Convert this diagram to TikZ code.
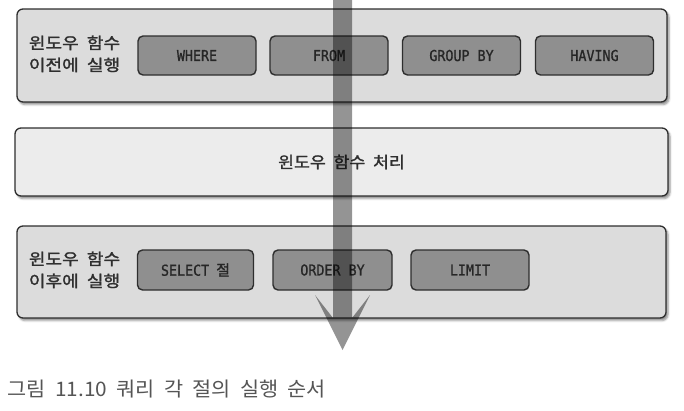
\documentclass[tikz,border=0pt]{standalone}
\usepackage{fontspec}
\usepackage{graphicx}
\setmainfont{Noto Sans CJK KR}
\newfontfamily\krfont[WordSpace=2, FakeBold=1.5]{Noto Sans CJK KR}
\newfontfamily\capfont[WordSpace=2]{Noto Sans CJK KR}
\newfontfamily\codefont[FakeBold=1]{DejaVu Sans Mono}
\usetikzlibrary{shadows.blur,calc}
\definecolor{panelfill}{HTML}{DCDCDC}
\definecolor{midfill}{HTML}{ECECEC}
\definecolor{clausefill}{HTML}{8F8F8F}
\definecolor{edgecol}{HTML}{2E2E2E}
\definecolor{labelcol}{HTML}{2F2F2F}
\definecolor{capcol}{HTML}{555555}
\newcommand{\codetext}[1]{\scalebox{0.89}[1]{\codefont\fontsize{15}{15}\selectfont #1}}
\newcommand{\twoline}[2]{\scalebox{1.13}[1]{\begin{tabular}{@{}l@{}}#1\\#2\end{tabular}}}
\begin{document}
\begin{tikzpicture}[x=1pt,y=-1pt,
  panel/.style={draw=edgecol, line width=1.3pt, rounded corners=6pt, fill=panelfill, inner sep=0pt,
    blur shadow={shadow xshift=2pt, shadow yshift=-2.5pt, shadow blur radius=2pt, shadow opacity=45}},
  midpanel/.style={panel, fill=midfill},
  clause/.style={draw=edgecol, line width=1.4pt, rounded corners=5pt, fill=clausefill, inner sep=0pt,
    minimum width=118pt, minimum height=39pt, text=black!85},
  grouplabel/.style={text=labelcol, inner sep=0pt, font=\krfont\fontsize{16}{22}\selectfont},
  flowarrow/.style={fill=black, opacity=0.42}
]
\useasboundingbox (0,0) rectangle (684,410);

% panels
\node[panel, minimum width=650pt, minimum height=93pt] (before) at (342,55.5) {};
\node[midpanel, minimum width=653pt, minimum height=68pt] (window) at (341.5,162) {};
\node[panel, minimum width=649pt, minimum height=92pt] (after) at (341.5,272) {};

% labels
\node[grouplabel] (beforelbl) at (74.5,55.5) {\twoline{윈도우 함수}{이전에 실행}};
\node[grouplabel] (afterlbl) at (74.5,271.5) {\twoline{윈도우 함수}{이후에 실행}};
\node[text=labelcol, inner sep=0pt, font=\krfont\fontsize{16}{18}\selectfont] (windowlbl) at (341.5,162) {\scalebox{1.08}[1]{윈도우 함수 처리}};

% clauses before
\node[clause] (where) at (197,55.5) {\codetext{WHERE}};
\node[clause] (from) at (329,55.5) {\codetext{FROM}};
\node[clause] (groupby) at (461.5,55.5) {\codetext{GROUP BY}};
\node[clause] (having) at (594.5,55.5) {\codetext{HAVING}};

% clauses after
\node[clause, minimum width=116pt, minimum height=40pt] (select) at (195.5,270) {\codetext{SELECT}\hspace{7pt}{\krfont\fontsize{15}{15}\selectfont 절}};
\node[clause, minimum width=119pt, minimum height=40pt] (orderby) at (332.5,270) {\codetext{ORDER BY}};
\node[clause, minimum width=118pt, minimum height=40pt] (limit) at (470,270) {\codetext{LIMIT}};

% flow arrow
\coordinate (atop) at (342.5,0);
\coordinate (atip) at (342.5,350);
\fill[flowarrow] ($(atop)+(-9.5,0)$) -- ($(atip)+(-9.5,-32)$) -- ($(atip)+(-27.5,-55)$) -- (atip)
  -- ($(atip)+(27.5,-55)$) -- ($(atip)+(9.5,-32)$) -- ($(atop)+(9.5,0)$) -- cycle;

% caption
\node[anchor=west, inner sep=0pt, text=capcol, font=\capfont\fontsize{20}{22}\selectfont] (caption) at (7.5,389) {\scalebox{1.04}[1]{그림 11.10 쿼리 각 절의 실행 순서}};
\end{tikzpicture}
\end{document}
